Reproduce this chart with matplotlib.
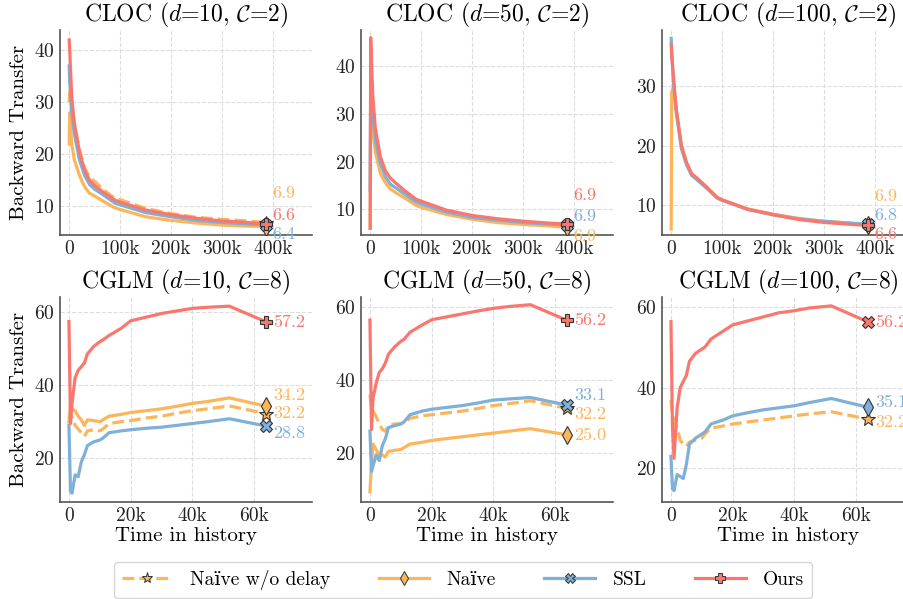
import matplotlib
matplotlib.use("Agg")
import matplotlib.pyplot as plt
from matplotlib.lines import Line2D

plt.rcParams['font.family'] = ['cmr10', 'DejaVu Serif']
plt.rcParams['mathtext.fontset'] = 'cm'
plt.rcParams['axes.formatter.use_mathtext'] = True

ORANGE = '#FDB55C'
BLUE = '#7EB0D8'
RED = '#F9776E'

# ---------------- data ----------------
X_TOP = [0, 1000, 5000, 10000, 20000, 30000, 40000, 50000, 70000, 90000, 100000,
         150000, 200000, 250000, 300000, 350000, 385000]
X_BOT = [0, 500, 1000, 2000, 3000, 4000, 5000, 6000, 8000, 10000, 11000, 13000,
         17000, 20000, 25000, 30000, 35000, 40000, 45000, 52000, 64000]

# CLOC d=10
TL_ours = [42, 40, 31, 26, 20.5, 17, 15, 14, 12.5, 11.2, 10.8, 9.3, 8.4, 7.7, 7.2, 6.9, 6.6]
TL_ssl = [37, 34, 28, 24, 19, 16, 14.2, 13.3, 12, 10.6, 10.3, 8.8, 8.0, 7.3, 6.9, 6.6, 6.4]
TL_nodelay = [30, 32, 30, 26, 21, 17.5, 15.5, 14.8, 13, 11.5, 11.3, 9.6, 8.6, 7.9, 7.5, 7.2, 6.9]
TL_naive = [22, 28, 22, 19, 16, 13.8, 12.5, 12, 10.8, 9.7, 9.4, 8.0, 7.3, 6.8, 6.4, 6.2, 6.1]
# CLOC d=50
TM_ours = [6, 46, 34, 27, 21, 18, 16.5, 15.5, 13.7, 12.1, 11.7, 9.8, 8.7, 8.0, 7.5, 7.1, 6.9]
TM_ssl = [14, 36, 30, 24.5, 19.5, 16.8, 15.2, 14.5, 13, 11.5, 11.1, 9.4, 8.3, 7.7, 7.2, 6.9, 6.7]
TM_naive = [6, 33, 27, 22, 17.5, 15.5, 14.2, 13.5, 12.2, 10.8, 10.4, 8.9, 7.9, 7.2, 6.8, 6.5, 6.2]
# CLOC d=100
TR_naive = [6, 29, 30, 26, 20, 17, 15.2, 14.5, 13, 11.3, 10.9, 9.4, 8.5, 7.8, 7.3, 7.0, 6.7]
TR_ssl = [38, 36, 30, 25.5, 19.5, 16.8, 15, 14.3, 12.8, 11.2, 10.8, 9.3, 8.4, 7.7, 7.3, 7.0, 6.8]
TR_ours = [37, 35, 31, 26, 20, 17.2, 15.3, 14.6, 13, 11.3, 10.9, 9.3, 8.4, 7.6, 7.1, 6.8, 6.6]
# CGLM d=10
BL_ours = [57.3, 29.5, 35, 42, 44, 45, 46, 48.5, 50.5, 51.8, 52.3, 53.5, 55.5, 57.5, 58.5,
           59.5, 60.2, 60.9, 61.2, 61.5, 57.2]
BL_naive = [30, 34, 33.5, 33, 31.5, 30.5, 29, 30.5, 30.3, 30, 30.5, 31.5, 32, 32.5, 33,
            33.5, 34.2, 35, 35.5, 36.5, 34.2]
BL_nodelay = [31, 32.5, 31, 29, 28, 27, 26, 27.5, 27.8, 27.5, 28, 29.5, 30, 30.3, 31,
              31.5, 32.3, 33, 33.5, 34.3, 32.2]
BL_ssl = [29, 11, 10.5, 15.5, 15, 19, 21, 23.5, 24.5, 25, 25.5, 27, 27.5, 27.8, 28.2,
          28.5, 29, 29.5, 30, 30.8, 28.8]
# CGLM d=50
BM_ours = [56.3, 26.5, 35, 39, 42, 43, 44.6, 47, 49, 50.5, 51, 53, 55, 56.4, 57.2, 58,
           58.8, 59.5, 60, 60.5, 56.2]
BM_ssl = [26, 15, 16.5, 19.5, 18, 22, 24, 27, 27.5, 28, 28.5, 30.5, 31.5, 32, 32.5, 33,
          33.7, 34.5, 34.8, 35.2, 33.1]
BM_nodelay = [36, 32, 31.5, 30, 28, 26.5, 26, 27.5, 28, 28, 28.3, 29.5, 30.2, 30.5, 31,
              31.5, 32.2, 33, 33.5, 34.3, 32.2]
BM_naive = [9.5, 17, 22.5, 21, 19.5, 19.5, 19, 20.5, 20.8, 21, 21.5, 22.5, 23, 23.5, 24,
            24.5, 25, 25.5, 26, 26.7, 25.0]
# CGLM d=100
BR_ours = [56.3, 30, 22.5, 35, 40, 41.5, 43, 46.5, 48.5, 49.5, 50, 52, 54, 55.5, 56.5,
           57.5, 58.5, 59, 59.7, 60.2, 56.2]
BR_ssl = [23, 15, 14.5, 18.5, 18, 17.5, 21, 26, 27.5, 28.5, 29, 31, 32, 33, 33.8, 34.5,
          35, 35.5, 36.3, 37.3, 35.1]
BR_nodelay = [37, 33, 32, 30, 27, 26, 25.5, 26.5, 27, 27.5, 28.5, 30, 30.5, 31, 31.5, 32,
              32.5, 33, 33.5, 34, 32.2]

TITLES = [r'CLOC ($d$=10, $\mathcal{C}$=2)', r'CLOC ($d$=50, $\mathcal{C}$=2)',
          r'CLOC ($d$=100, $\mathcal{C}$=2)', r'CGLM ($d$=10, $\mathcal{C}$=8)',
          r'CGLM ($d$=50, $\mathcal{C}$=8)', r'CGLM ($d$=100, $\mathcal{C}$=8)']
LEGEND_LABELS = ['Naïve w/o delay', 'Naïve', 'SSL', 'Ours']

# (values, color, linestyle, marker, label text, label offset px)
panels = [
    (X_TOP, [(TL_nodelay, ORANGE, '--', '*', '6.9', -29),
             (TL_naive, ORANGE, '-', 'd', None, 0),
             (TL_ssl, BLUE, '-', 'X', '6.4', 9),
             (TL_ours, RED, '-', 'P', '6.6', -9)], (4.5, 43.9), [10, 20, 30, 40]),
    (X_TOP, [(TM_naive, ORANGE, '-', 'd', '6.9', 9),
             (TM_ssl, BLUE, '-', 'X', '6.9', -9),
             (TM_ours, RED, '-', 'P', '6.9', -29)], (4.6, 47.6), [10, 20, 30, 40]),
    (X_TOP, [(TR_naive, ORANGE, '-', 'd', '6.9', -29),
             (TR_ssl, BLUE, '-', 'X', '6.8', -9),
             (TR_ours, RED, '-', 'P', '6.6', 9)], (5.0, 39.4), [10, 20, 30]),
    (X_BOT, [(BL_nodelay, ORANGE, '--', '*', '32.2', 0),
             (BL_naive, ORANGE, '-', 'd', '34.2', -11),
             (BL_ssl, BLUE, '-', 'X', '28.8', 7),
             (BL_ours, RED, '-', 'P', '57.2', 0)], (8.1, 64.0), [20, 40, 60]),
    (X_BOT, [(BM_nodelay, ORANGE, '--', '*', '32.2', 6),
             (BM_naive, ORANGE, '-', 'd', '25.0', 0),
             (BM_ssl, BLUE, '-', 'X', '33.1', -10),
             (BM_ours, RED, '-', 'P', '56.2', 0)], (6.7, 62.6), [20, 40, 60]),
    (X_BOT, [(BR_nodelay, ORANGE, '--', '*', '32.2', 3),
             (BR_ssl, BLUE, '-', 'd', '35.1', -5),
             (BR_ours, RED, '-', 'X', '56.2', 0)], (11.7, 62.4), [20, 40, 60]),
]

fig = plt.figure(figsize=(9.04, 5.99), dpi=100)
W, H = 904, 599
lefts = [60, 361, 662]
tops = [30, 297]
aw, ah = 252, 205

def ktick(v, pos):
    return '0' if v == 0 else f'{int(v/1000)}k'

for i, (xs, series, ylim, yticks) in enumerate(panels):
    r, c = divmod(i, 3)
    ax = fig.add_axes([lefts[c] / W, 1 - (tops[r] + ah) / H, aw / W, ah / H])
    for vals, col, ls, mk, lab, off in series:
        ax.plot(xs, vals, color=col, ls=ls, lw=2.3, zorder=2)
        ax.plot([xs[-1]], [vals[-1]], marker=mk, color=col, mec='#333333', mew=0.8,
                ms=9 if mk != '*' else 10, ls='none', zorder=3)
        if lab is not None:
            ax.annotate(lab, xy=(xs[-1], vals[-1]), xytext=(7, -off),
                        textcoords='offset pixels', color=col, fontsize=13,
                        va='center', ha='left', annotation_clip=False)
    if r == 0:
        ax.set_xlim(-18000, 476000)
        ax.set_xticks([0, 100000, 200000, 300000, 400000])
    else:
        ax.set_xlim(-2900, 78800)
        ax.set_xticks([0, 20000, 40000, 60000])
        ax.set_xlabel('Time in history', fontsize=15, labelpad=1)
    ax.xaxis.set_major_formatter(plt.FuncFormatter(ktick))
    ax.set_ylim(*ylim)
    ax.set_yticks(yticks)
    ax.set_title(TITLES[i], fontsize=17, pad=6)
    if c == 0:
        ax.set_ylabel('Backward Transfer', fontsize=15, labelpad=4)
    ax.grid(True, ls='--', color='#dddddd', lw=0.8)
    ax.set_axisbelow(True)
    for s in ['top', 'right']:
        ax.spines[s].set_visible(False)
    for s in ['left', 'bottom']:
        ax.spines[s].set_color('#555555')
        ax.spines[s].set_linewidth(1.2)
    ax.tick_params(length=0, labelsize=14, pad=4, colors='#222222')

handles = [
    Line2D([], [], color=ORANGE, ls='--', lw=2.3, marker='*', mfc=ORANGE, mec='#333333', mew=0.7, ms=8),
    Line2D([], [], color=ORANGE, ls='-', lw=2.3, marker='d', mfc=ORANGE, mec='#333333', mew=0.7, ms=7),
    Line2D([], [], color=BLUE, ls='-', lw=2.3, marker='X', mfc=BLUE, mec='#333333', mew=0.7, ms=7),
    Line2D([], [], color=RED, ls='-', lw=2.3, marker='P', mfc=RED, mec='#333333', mew=0.7, ms=7),
]
fig.legend(handles, LEGEND_LABELS, loc='center', bbox_to_anchor=(463 / W, 1 - 580 / H),
           ncol=4, fontsize=14, frameon=True, fancybox=True, edgecolor='#cccccc',
           handlelength=2.6, columnspacing=2.5, handletextpad=0.9, borderpad=0.4)

fig.savefig('out.png', dpi=100)
